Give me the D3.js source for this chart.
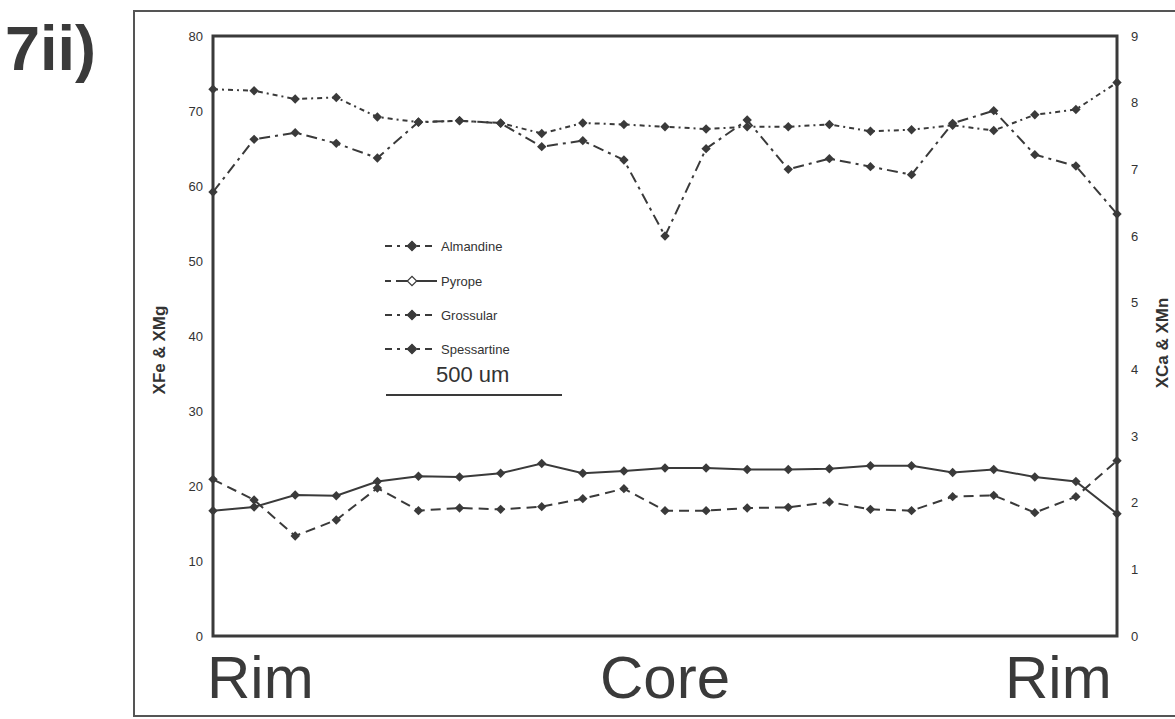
<!DOCTYPE html>
<html>
<head>
<meta charset="utf-8">
<script src="https://cdn.jsdelivr.net/npm/d3@7"></script>
<style>
  body { margin: 0; background: #fff; }
  svg text { font-family: "Liberation Sans", Arial, sans-serif; fill: #333; }
</style>
</head>
<body>
<div id="main"></div>
<script>
// traverse positions (23 analysis points rim - core - rim)
const points = d3.range(23);

// left axis (XFe & XMg)
const almandine = [72.9, 72.7, 71.6, 71.8, 69.2, 68.5, 68.7, 68.4, 67.0, 68.4, 68.2, 67.9,
  67.6, 67.9, 67.9, 68.2, 67.3, 67.5, 68.1, 67.4, 69.5, 70.2, 73.8];
const pyrope = [16.7, 17.2, 18.8, 18.7, 20.6, 21.3, 21.2, 21.7, 23.0, 21.7, 22.0, 22.4,
  22.4, 22.2, 22.2, 22.3, 22.7, 22.7, 21.8, 22.2, 21.2, 20.6, 16.3];
// right axis (XCa & XMn)
const grossular = [2.35, 2.04, 1.5, 1.74, 2.22, 1.88, 1.92, 1.9, 1.94, 2.06, 2.21, 1.88,
  1.88, 1.92, 1.93, 2.01, 1.9, 1.88, 2.09, 2.11, 1.85, 2.09, 2.63];
const spessartine = [6.66, 7.45, 7.55, 7.39, 7.17, 7.71, 7.73, 7.69, 7.34, 7.43, 7.14, 6.0,
  7.31, 7.74, 7.0, 7.16, 7.04, 6.92, 7.69, 7.88, 7.22, 7.05, 6.33];

const leftTicks = [0, 10, 20, 30, 40, 50, 60, 70, 80];
const rightTicks = [0, 1, 2, 3, 4, 5, 6, 7, 8, 9];
const zoneLabels = ["Rim", "Core", "Rim"];

const width = 1175;
const height = 719;
const margin = { top: 36, right: 58, bottom: 83, left: 213 };
const ink = "#3a3a3a";

const svg = d3.select("#main").append("svg").attr("width", width).attr("height", height);

const xScale = d3.scaleLinear().domain([0, 22]).range([margin.left, width - margin.right]);
const yLeft = d3.scaleLinear().domain([0, 80]).range([height - margin.bottom, margin.top]);
const yRight = d3.scaleLinear().domain([0, 9]).range([height - margin.bottom, margin.top]);

// outer figure frame
svg.append("path")
  .attr("d", "M1175,11 L134,11 L134,716 L1175,716")
  .attr("fill", "none")
  .attr("stroke", "#555")
  .attr("stroke-width", 2);

// panel label
svg.append("text")
  .attr("x", 5)
  .attr("y", 70)
  .text("7ii)")
  .style("font-size", "63px")
  .style("font-weight", "bold")
  .style("fill", ink);

// plot frame
svg.append("rect")
  .attr("x", margin.left)
  .attr("y", margin.top)
  .attr("width", width - margin.right - margin.left)
  .attr("height", height - margin.bottom - margin.top)
  .attr("fill", "none")
  .attr("stroke", ink)
  .attr("stroke-width", 3);

// axes
let leftAxis = d3.axisLeft(yLeft).tickValues(leftTicks).tickSize(0).tickPadding(10);
let rightAxis = d3.axisRight(yRight).tickValues(rightTicks).tickSize(0).tickPadding(14);

svg.append("g")
  .attr("transform", `translate(${margin.left}, 0)`)
  .call(leftAxis)
  .call((g) => g.select(".domain").remove())
  .selectAll("text")
  .style("font-size", "13px")
  .style("font-family", "'Liberation Sans', Arial, sans-serif")
  .attr("fill", ink);

svg.append("g")
  .attr("transform", `translate(${width - margin.right}, 0)`)
  .call(rightAxis)
  .call((g) => g.select(".domain").remove())
  .selectAll("text")
  .style("font-size", "13px")
  .style("font-family", "'Liberation Sans', Arial, sans-serif")
  .attr("fill", ink);

svg.append("text")
  .attr("transform", "translate(165, 350) rotate(-90)")
  .attr("text-anchor", "middle")
  .text("XFe & XMg")
  .style("font-size", "17px")
  .style("font-weight", "bold");

svg.append("text")
  .attr("transform", "translate(1168, 343) rotate(-90)")
  .attr("text-anchor", "middle")
  .text("XCa & XMn")
  .style("font-size", "17px")
  .style("font-weight", "bold");

// zone labels under the plot
const zoneX = [xScale(0) - 6, xScale(11), xScale(22) - 112];
const zoneAnchor = ["start", "middle", "start"];
svg.selectAll(".zone")
  .data(zoneLabels)
  .enter()
  .append("text")
  .attr("class", "zone")
  .attr("x", (d, i) => zoneX[i])
  .attr("y", 698)
  .attr("text-anchor", (d, i) => zoneAnchor[i])
  .text((d) => d)
  .style("font-size", "60px")
  .style("fill", ink);

// series
const series = [
  { name: "Almandine", values: almandine, y: yLeft, dash: "5,4,2,4" },
  { name: "Pyrope", values: pyrope, y: yLeft, dash: null },
  { name: "Grossular", values: grossular, y: yRight, dash: "10,6" },
  { name: "Spessartine", values: spessartine, y: yRight, dash: "11,5,3,5" },
];

const diamond = d3.symbol().type(d3.symbolSquare).size(44);

series.forEach((s) => {
  const line = d3.line()
    .x((d, i) => xScale(points[i]))
    .y((d) => s.y(d));

  svg.append("path")
    .datum(s.values)
    .attr("fill", "none")
    .attr("stroke", ink)
    .attr("stroke-width", 2)
    .attr("stroke-dasharray", s.dash)
    .attr("d", line);

  svg.append("g")
    .selectAll("path")
    .data(s.values)
    .enter()
    .append("path")
    .attr("d", diamond)
    .attr("transform", (d, i) => `translate(${xScale(points[i])}, ${s.y(d)}) rotate(45)`)
    .attr("fill", ink);
});

// legend
const legendY = [246, 281, 315, 349];
series.forEach((s, i) => {
  const lg = svg.append("g").attr("transform", `translate(385, ${legendY[i]})`);
  lg.append("line")
    .attr("x1", 0).attr("x2", 52)
    .attr("stroke", ink)
    .attr("stroke-width", 2)
    .attr("stroke-dasharray", s.dash ? "7,5,3,5" : "6,5,41");
  lg.append("path")
    .attr("d", diamond)
    .attr("transform", "translate(27, 0) rotate(45)")
    .attr("fill", s.name == "Pyrope" ? "#fff" : ink)
    .attr("stroke", ink)
    .attr("stroke-width", 1.2);
  lg.append("text")
    .attr("x", 56)
    .attr("y", 5)
    .text(s.name)
    .style("font-size", "13px");
});

// scale bar
svg.append("text")
  .attr("x", 436)
  .attr("y", 382)
  .text("500 um")
  .style("font-size", "22px");

svg.append("line")
  .attr("x1", 386).attr("x2", 562)
  .attr("y1", 395).attr("y2", 395)
  .attr("stroke", ink)
  .attr("stroke-width", 2);
</script>
</body>
</html>
